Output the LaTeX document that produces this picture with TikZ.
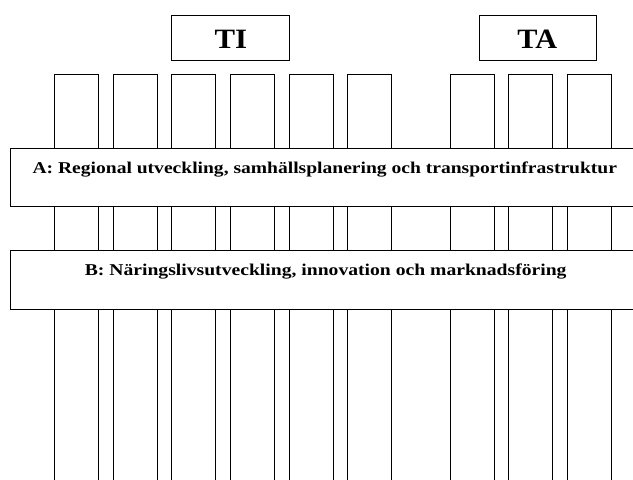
\documentclass[tikz,border=0pt]{standalone}
\usepackage{fontspec}
\setmainfont{Liberation Serif}
\begin{document}
\begin{tikzpicture}[x=1pt,y=-1pt,
  every node/.style={inner sep=0pt, outer sep=0pt},
  column/.style={draw, line width=0.8pt, anchor=north west,
    minimum width=44pt, minimum height=430pt},
  band/.style={draw, line width=0.8pt, fill=white, anchor=north west,
    minimum width=632pt, minimum height=58.6pt},
  bandtext/.style={anchor=base, font=\bfseries\fontsize{16.5}{19}\selectfont},
  agency/.style={draw, line width=0.8pt, minimum width=117.3pt,
    minimum height=44.3pt, anchor=north west},
  agencytext/.style={anchor=base, font=\bfseries\fontsize{28}{32}\selectfont}]
\useasboundingbox (0,0) rectangle (633,480);
\clip (0,0) rectangle (633,480);
% agency headings
\node[agency] (ti) at (171.7,15.7) {};
\node[agencytext] (titext) at (230.8,48.3) {\scalebox{1.1}[1]{TI}};
\node[agency] (ta) at (479.3,15.7) {};
\node[agencytext] (tatext) at (537.2,48.3) {\scalebox{1.08}[1]{TA}};
% vertical columns (run behind the bands and off the bottom)
\foreach \i/\x in {1/54.7,2/113.3,3/171.7,4/230.3,5/289,6/347.7,7/450.3,8/508.7,9/567.7}
  \node[column] (c\i) at (\x,74.7) {};
% horizontal bands
\node[band] (a) at (10.7,148) {};
\node[bandtext] (atext) at (324.8,173.7) {\scalebox{1.185}[1]{A: Regional utveckling, samhällsplanering och transportinfrastruktur}};
\node[band] (b) at (10.7,250.7) {};
\node[bandtext] (btext) at (325.7,275.5) {\scalebox{1.19}[1]{B: Näringslivsutveckling, innovation och marknadsföring}};
\end{tikzpicture}
\end{document}
